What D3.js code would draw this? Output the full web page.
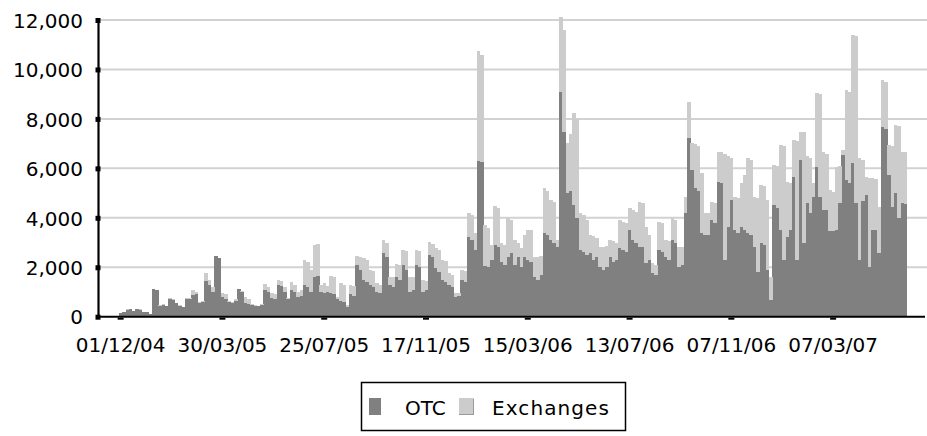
<!DOCTYPE html>
<html>
<head>
<meta charset="utf-8">
<script src="https://cdn.jsdelivr.net/npm/d3@7/dist/d3.min.js"></script>
<style>
  html, body { margin: 0; padding: 0; background: #fff; }
  svg { display: block; }
  text { font-family: "DejaVu Sans", Verdana, sans-serif; fill: #000; }
</style>
</head>
<body>
<svg id="chart" width="927" height="436"></svg>
<script>
// ---- Data ----
const seriesNames = ["OTC", "Exchanges"];

const otc = [
  160,200,280,300,220,300,290,200,180,120,
  1120,1100,450,480,430,720,680,540,450,380,
  700,700,880,900,560,600,1450,1300,1000,2450,
  2380,800,700,600,560,650,1120,1000,560,500,
  480,450,420,460,1080,1000,750,700,1280,1250,
  1000,700,1080,1000,800,850,1300,1200,1000,1600,
  1650,1000,950,1000,940,900,700,650,600,400,
  900,850,2090,1900,1470,1400,1300,1200,1000,950,
  2560,2400,1300,1200,1600,1500,2090,1900,1000,1100,
  2080,2000,1000,1100,2490,2400,1950,1800,1470,1400,
  1300,1200,800,850,1470,1400,3240,3100,2700,6300,
  6250,2040,2000,2300,2900,2800,2200,2100,2420,2560,
  2100,2400,2000,2430,2300,2200,1600,1500,1700,3370,
  3300,3100,3000,2800,9100,7480,4990,5100,4520,4000,
  2700,2600,2500,2560,2300,2400,2020,1900,2000,2430,
  2200,2300,2770,2700,2600,3510,3100,3000,2830,2800,
  2160,2300,1750,1700,2700,2600,2430,2300,3100,3000,
  2000,2100,4180,7220,5940,5190,5100,3400,3300,3300,
  3910,3800,5460,5400,2290,3640,4720,3510,3400,3640,
  3510,3370,3300,2830,1800,2970,2900,1890,670,4520,
  4400,3500,2290,3240,3500,5670,2300,6340,3000,4590,
  4200,4860,6070,4860,4320,4320,3450,3450,3500,4590,
  6540,5530,5400,6200,4590,2290,4660,4930,2000,3500,
  3500,2560,7690,7600,5730,4450,4990,4000,4590,4550
];

const exchanges = [
  0,0,20,0,0,0,10,0,0,0,
  0,0,20,20,20,20,20,20,20,20,
  40,60,200,100,40,20,300,200,210,0,
  0,150,200,50,40,50,0,50,220,200,
  40,20,30,40,260,200,200,200,200,200,
  200,50,310,300,200,250,990,1000,900,1300,
  1300,300,400,250,710,700,100,710,700,70,
  380,400,360,500,900,900,600,650,360,350,
  540,600,320,400,550,600,610,750,620,500,
  620,650,480,350,540,550,820,900,820,850,
  450,500,140,100,430,450,940,1000,670,4450,
  4350,1670,1600,600,1580,1600,770,800,1580,1350,
  1000,570,770,870,1210,1300,830,900,750,1820,
  1800,1620,1650,300,3040,4120,2020,2300,3710,4000,
  1480,1500,1400,740,950,800,810,900,850,670,
  850,700,1140,1150,1200,870,1220,1250,1820,1800,
  1480,1000,410,400,1150,1200,670,750,880,900,
  830,700,680,1480,1070,1810,1800,2400,880,880,
  740,800,1220,1250,4310,2860,1690,1350,1400,1760,
  2220,3040,3050,2030,3000,2360,2400,2830,950,1620,
  1700,3450,4610,2220,1900,1480,4800,1150,4450,1890,
  2200,530,2970,4140,2360,2280,1670,1610,2570,1510,
  210,3640,3700,5200,6760,4120,1690,740,3600,2100,
  2050,1890,1890,1900,1220,2450,2770,3700,2090,2100
];

const categories = otc.map((d, i) => i);          // one bar per period
const tickIndex  = [0, 31, 62, 93, 124, 155, 186, 217];
const tickLabels = ["01/12/04","30/03/05","25/07/05","17/11/05","15/03/06","13/07/06","07/11/06","07/03/07"];
const yTicks     = [0, 2000, 4000, 6000, 8000, 10000, 12000];
const colors     = { OTC: "#808080", Exchanges: "#cccccc" };

// ---- Chart ----
const svg = d3.select("#chart");
const axisX = 98, plotRight = 927, baseY = 316.7, topY = 20;

const x = d3.scaleBand().domain(categories).range([119, 907]).padding(0);
const y = d3.scaleLinear().domain([0, 12000]).range([baseY, topY]);

const table = categories.map((c, i) => ({ cat: c, OTC: otc[i], Exchanges: exchanges[i] }));
const stacked = d3.stack().keys(seriesNames)(table);

// gridlines
svg.append("g").selectAll("line")
  .data(yTicks.filter(d => d > 0))
  .join("line")
  .attr("x1", axisX).attr("x2", plotRight)
  .attr("y1", d => y(d)).attr("y2", d => y(d))
  .attr("stroke", "#d2d2d2").attr("stroke-width", 2);

// bars
svg.append("g").selectAll("g")
  .data(stacked)
  .join("g")
  .attr("fill", s => colors[s.key])
  .selectAll("rect")
  .data(s => s)
  .join("rect")
  .attr("shape-rendering", "crispEdges")
  .attr("x", d => x(d.data.cat))
  .attr("width", x.bandwidth() + 0.3)
  .attr("y", d => y(d[1]))
  .attr("height", d => Math.max(0, y(d[0]) - y(d[1])));

// x axis baseline
svg.append("line")
  .attr("x1", axisX - 1).attr("x2", 925)
  .attr("y1", baseY).attr("y2", baseY)
  .attr("stroke", "#000").attr("stroke-width", 2);

// x axis
const xAxis = svg.append("g")
  .attr("transform", `translate(0,${baseY})`)
  .call(d3.axisBottom(x)
    .tickValues(tickIndex)
    .tickFormat(d => tickLabels[tickIndex.indexOf(d)])
    .tickSizeOuter(0).tickSize(3).tickPadding(18));
xAxis.select(".domain").remove();
xAxis.selectAll(".tick line").attr("stroke", "#000").attr("stroke-width", 6).attr("y1", 1);
xAxis.selectAll(".tick text")
  .style("font-family", '"DejaVu Sans", Verdana, sans-serif')
  .style("font-size", "20px").attr("fill", "#000");

// y axis
const yAxis = svg.append("g")
  .attr("transform", `translate(${axisX},0)`)
  .call(d3.axisLeft(y)
    .tickValues(yTicks)
    .tickFormat(d3.format(","))
    .tickSize(0).tickSizeOuter(0).tickPadding(15));
yAxis.select(".domain").attr("stroke", "#000").attr("stroke-width", 2.2);
yAxis.selectAll(".tick text")
  .attr("dy", "0.36em")
  .style("font-family", '"DejaVu Sans", Verdana, sans-serif')
  .style("font-size", "20px").attr("fill", "#000");
yAxis.selectAll(".tick").append("rect")
  .attr("x", -2.5).attr("y", -2.5).attr("width", 5).attr("height", 5)
  .attr("fill", "#000");

// legend
const lg = svg.append("g");
lg.append("rect")
  .attr("x", 361.5).attr("y", 382.5).attr("width", 264).attr("height", 48)
  .attr("fill", "#fff").attr("stroke", "#000").attr("stroke-width", 1.5);
const legendItems = [
  { key: "OTC", sx: 369, sw: 12, tx: 405 },
  { key: "Exchanges", sx: 459, sw: 15, tx: 492 }
];
legendItems.forEach(it => {
  lg.append("rect")
    .attr("x", it.sx).attr("y", 398).attr("width", it.sw).attr("height", 17)
    .attr("fill", colors[it.key]);
  lg.append("text")
    .attr("x", it.tx).attr("y", 415)
    .style("font-size", "20px")
    .attr("letter-spacing", it.key === "Exchanges" ? "1.1px" : "0px")
    .text(it.key);
});
lg.append("line").attr("x1", 473.5).attr("x2", 473.5).attr("y1", 399).attr("y2", 415)
  .attr("stroke", "#9a9a9a").attr("stroke-width", 1);
lg.append("line").attr("x1", 459).attr("x2", 474).attr("y1", 414.5).attr("y2", 414.5)
  .attr("stroke", "#9a9a9a").attr("stroke-width", 1);
</script>
</body>
</html>
